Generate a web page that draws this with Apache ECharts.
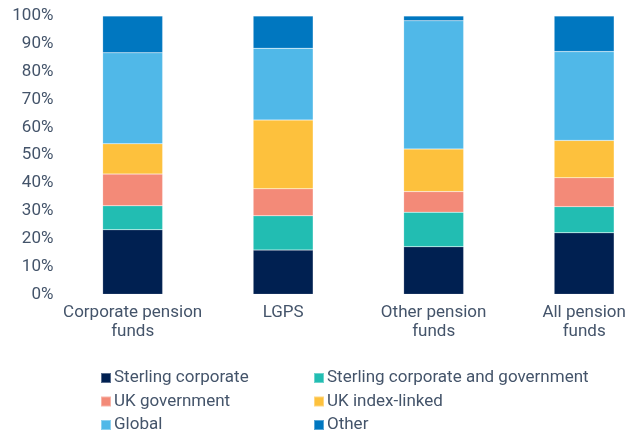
<!DOCTYPE html>
<html><head><meta charset="utf-8">
<script src="https://cdn.jsdelivr.net/npm/echarts@6/dist/echarts.min.js"></script>
<style>html,body{margin:0;padding:0;background:#fff;overflow:hidden;width:636px;height:434px}#c{width:680px;height:434px}</style>
</head><body><div id="c"></div>
<script>
const categories = ['Corporate pension\nfunds', 'LGPS', 'Other pension\nfunds', 'All pension\nfunds'];
const sterlingCorporate = [23.2, 15.9, 17.1, 22.1];
const sterlingCorpGov   = [8.6, 12.3, 12.4, 9.4];
const ukGovernment      = [11.4, 9.7, 7.4, 10.4];
const ukIndexLinked     = [10.9, 24.7, 15.3, 13.4];
const global            = [32.7, 25.8, 46.1, 31.9];
const other             = [13.2, 11.6, 1.7, 12.8];
const yTicks = [0, 10, 20, 30, 40, 50, 60, 70, 80, 90, 100];

const names = ['Sterling corporate', 'Sterling corporate and government', 'UK government', 'UK index-linked', 'Global', 'Other'];
const colors = ['#002051', '#22bdb2', '#f38a78', '#fdc13d', '#50b8e8', '#0077c0'];
const dataSets = [sterlingCorporate, sterlingCorpGov, ukGovernment, ukIndexLinked, global, other];
const txt = '#44546a';
const font = 'Roboto';

const chart = echarts.init(document.getElementById('c'));
const legendBase = { orient: 'vertical', top: 364.5, height: 69.5, itemWidth: 10, itemHeight: 10, itemGap: 6.5, icon: 'rect',
  textStyle: { color: txt, fontSize: 17, fontFamily: font, padding: [0, 0, 0, -2] } };
chart.setOption({
  animation: false,
  color: colors,
  grid: { left: 57.4, width: 602, top: 16, height: 278.3, containLabel: false },
  xAxis: {
    type: 'category', data: categories,
    axisLine: { show: false }, axisTick: { show: false },
    axisLabel: { color: txt, fontSize: 17, fontFamily: font, margin: 9, lineHeight: 19, interval: 0 }
  },
  yAxis: {
    type: 'value', min: yTicks[0], max: yTicks[yTicks.length - 1], interval: 10,
    splitLine: { show: false }, axisLine: { show: false }, axisTick: { show: false },
    axisLabel: { color: txt, fontSize: 17, fontFamily: font, margin: 4, formatter: '{value}%' }
  },
  legend: [
    Object.assign({}, legendBase, { left: 95, data: [names[0], names[2], names[4]] }),
    Object.assign({}, legendBase, { left: 308, data: [names[1], names[3], names[5]] })
  ],
  series: dataSets.map((d, i) => ({
    name: names[i], type: 'bar', stack: 'total', data: d, barWidth: 60,
    itemStyle: { color: colors[i], borderColor: 'rgba(255,255,255,0.35)', borderWidth: 0.5 }
  }))
});
</script></body></html>
